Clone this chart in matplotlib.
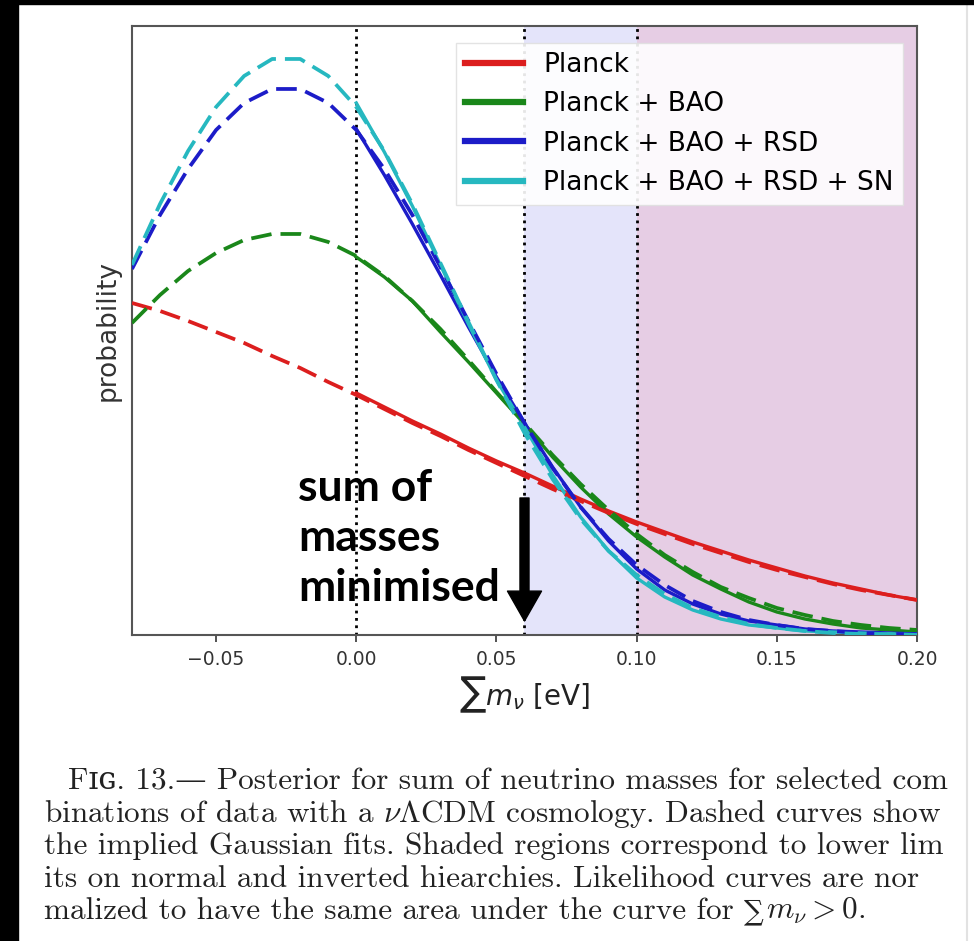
import matplotlib
matplotlib.use('Agg')
import matplotlib.pyplot as plt
from matplotlib.patches import Rectangle
from matplotlib.lines import Line2D
from matplotlib.transforms import offset_copy

plt.rcParams['mathtext.fontset'] = 'dejavusans'

# сетка по сумме масс (эВ)
m_nu = [-0.08, -0.07, -0.06, -0.05, -0.04, -0.03, -0.02, -0.01,
        0.00, 0.01, 0.02, 0.03, 0.04, 0.05, 0.06, 0.07, 0.08, 0.09, 0.10,
        0.11, 0.12, 0.13, 0.14, 0.15, 0.16, 0.17, 0.18, 0.19, 0.20]
m_nu_pos = m_nu[8:]

# гауссовы аппроксимации (пунктир)
fit_planck = [332, 324, 314, 303, 292, 279, 267, 253, 240, 226, 212, 199, 185, 172, 159,
              146, 134, 122, 111, 101, 91, 82, 73, 65, 58, 51, 45, 40, 35]
fit_bao = [312, 340, 364, 382, 395, 401, 401, 393, 379, 359, 334, 306, 275, 243, 212,
           180, 151, 125, 101, 80, 63, 48, 37, 27, 20, 14, 10, 7, 5]
fit_rsd = [366, 420, 466, 505, 532, 546, 546, 532, 505, 466, 420, 368, 314, 261, 212,
           167, 128, 96, 70, 50, 34, 23, 15, 10, 6, 4, 2, 1, 1]
fit_sn = [370, 431, 484, 528, 559, 576, 576, 559, 528, 484, 431, 372, 313, 255, 202,
          156, 116, 84, 60, 41, 27, 18, 11, 7, 4, 2, 1, 1, 0]

# апостериорные распределения (сплошные), только m_nu > 0
post_planck = [242, 228, 214, 201, 187, 174, 162, 149, 136, 124, 113, 103, 93, 84, 75,
               67, 59, 52, 46, 40, 35]
post_bao = [378, 358, 334, 303, 273, 242, 211, 178, 148, 121, 98, 78, 60, 46, 33,
            23, 16, 11, 7, 5, 3]
post_rsd = [506, 460, 411, 360, 308, 258, 212, 168, 128, 94, 66, 45, 31, 21, 14,
            10, 6, 4, 3, 2, 1]
post_sn = [532, 483, 429, 370, 311, 255, 208, 160, 118, 84, 57, 38, 25, 16, 10,
           7, 4, 3, 2, 1, 1]

labels = ['Planck', 'Planck + BAO', 'Planck + BAO + RSD', 'Planck + BAO + RSD + SN']
colors = ['#dc1e1e', '#1a871a', '#1c1cc8', '#26b8c0']
fits = [fit_planck, fit_bao, fit_rsd, fit_sn]
posts = [post_planck, post_bao, post_rsd, post_sn]

fig = plt.figure(figsize=(9.74, 9.41), dpi=100)
fig.patch.set_facecolor('white')
ax = fig.add_axes([0.1355, 0.3252, 0.806, 0.6472])

# области нормальной и обратной иерархии
ax.axvspan(0.06, 0.10, color='#e4e4fa', lw=0, zorder=0)
ax.axvspan(0.10, 0.20, color='#e6cde4', lw=0, zorder=0)
for xv in [0.0, 0.06, 0.10]:
    ax.axvline(xv, color='k', ls=':', lw=2, zorder=1)

for lab, col, fit, post in zip(labels, colors, fits, posts):
    ax.plot(m_nu_pos, post, color=col, lw=2.4, label=lab, zorder=3)
    ax.plot(m_nu, fit, color=col, lw=2.7, dashes=(5.5, 2.4), zorder=4)

ax.set_xlim(-0.08, 0.20)
ax.set_ylim(0, 609)
ax.set_xticks([-0.05, 0.0, 0.05, 0.10, 0.15, 0.20])
ax.set_xticklabels(['\u22120.05', '0.00', '0.05', '0.10', '0.15', '0.20'])
ax.set_yticks([])
ax.tick_params(axis='x', labelsize=13.5, colors='#444444', length=5, width=1.3, pad=6)
for lbl in ax.get_xticklabels():
    lbl.set_color('#333333')
for sp in ax.spines.values():
    sp.set_color('#555555')
    sp.set_linewidth(1.5)
ax.set_xlabel(r'$\sum m_\nu$ [eV]', fontsize=20, color='#222222', labelpad=4)
ax.set_ylabel('probability', fontsize=19, color='#333333', labelpad=8)

leg = ax.legend(loc='upper right', bbox_to_anchor=(0.982, 0.972), borderaxespad=0,
                fontsize=19, handlelength=2.2, handletextpad=0.75, labelspacing=0.5,
                framealpha=0.9, fancybox=False, borderpad=0.35)
leg.get_frame().set_edgecolor('#e0e0e0')
for line in leg.get_lines():
    line.set_linewidth(4.5)

# подпись со стрелкой
ax.text(-0.0207, 167, 'sum of\nmasses\nminimised', fontsize=32, fontweight='bold',
        family='Lato', color='k', ha='left', va='top', linespacing=1.3, zorder=6)
ax.annotate('', xy=(0.06, 14), xytext=(0.06, 137),
            arrowprops=dict(arrowstyle='simple,head_length=0.43,head_width=0.49,tail_width=0.13',
                            mutation_scale=50, color='k', shrinkA=0, shrinkB=0), zorder=6)

# подпись к рисунку
caption = [
    'F\u026a\u0262. 13.\u2014 Posterior for sum of neutrino masses for selected com',
    r'binations of data with a $\nu\Lambda$CDM cosmology. Dashed curves show',
    'the implied Gaussian fits. Shaded regions correspond to lower lim',
    'its on normal and inverted hiearchies. Likelihood curves are nor',
    'malized to have the same area under the curve for ',
]
cap_y = [782, 815, 847, 880, 912]
cap_x = [68, 44, 44, 44, 44]
cap_font = dict(fontsize=22.5, family=['cmr10', 'DejaVu Serif'], math_fontfamily='cm',
                color='#222222', va='baseline')
cap_texts = []
for txt, py, px in zip(caption, cap_y, cap_x):
    cap_texts.append(fig.text(px / 974, 1 - (py + 7) / 941, txt, ha='left', **cap_font))

# хвост последней строки: знак суммы отдельным шрифтом
fig.canvas.draw()
bb = cap_texts[-1].get_window_extent()
t_sum = fig.text(bb.x1 / 974, 1 - (912 + 7) / 941, '\u2211', ha='left',
                 fontsize=20, family='DejaVu Serif', color='#222222', va='baseline')
fig.canvas.draw()
bb2 = t_sum.get_window_extent()
fig.text(bb2.x1 / 974 + 2 / 974, 1 - (912 + 7) / 941, r'$m_\nu > 0$.', ha='left', **cap_font)

# чёрная рамка скриншота
fig.patches.append(Rectangle((0, 0), 18 / 974, 1, transform=fig.transFigure,
                             color='black', zorder=10))
fig.patches.append(Rectangle((0, 1 - 4 / 941), 1, 4 / 941, transform=fig.transFigure,
                             color='black', zorder=10))
fig.lines.append(Line2D([967 / 974, 967 / 974], [0, 1], transform=fig.transFigure,
                        color='#e2e2e2', lw=1.5))

plt.savefig('out.png', dpi=100)
